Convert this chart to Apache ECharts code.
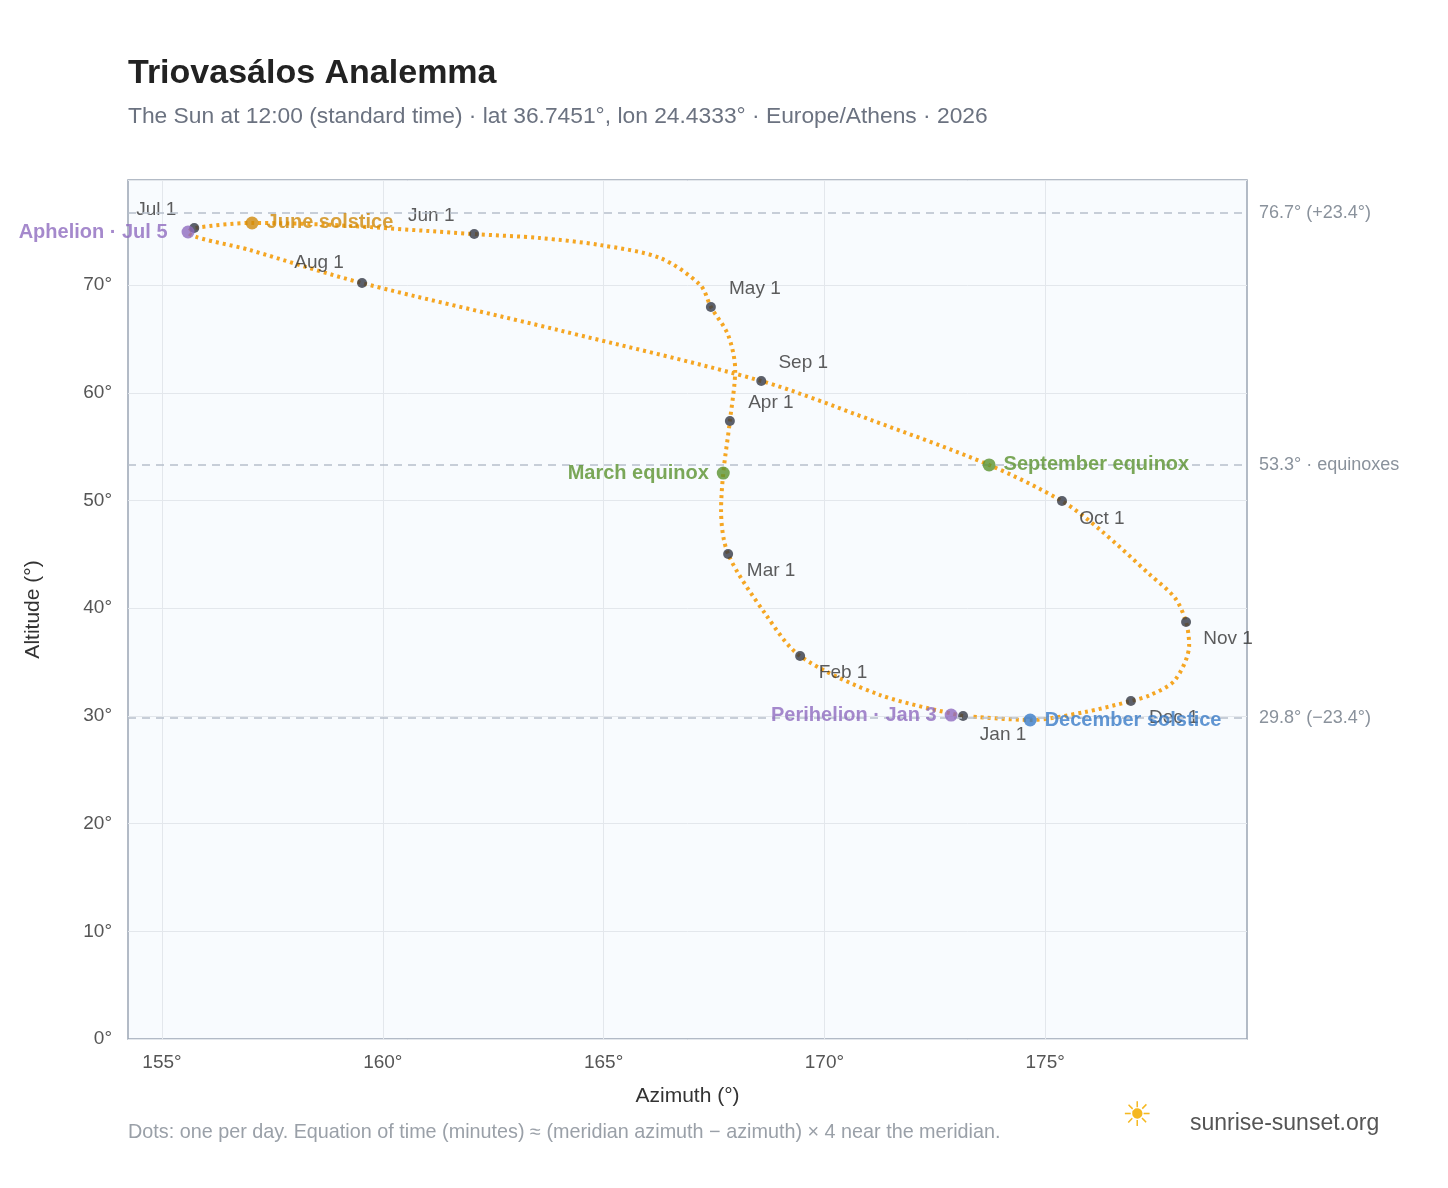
<!DOCTYPE html>
<html><head><meta charset="utf-8">
<script src="https://cdn.jsdelivr.net/npm/echarts@6/dist/echarts.min.js"></script>
<style>html,body{margin:0;background:#fff}#c{width:1448px;height:1188px}</style>
</head><body><div id="c"></div>
<script>
// Sun position at noon, sampled through the year (date, azimuth°, altitude°)
const pathDates = ['Jan 1','Jan 15','Feb 1','Feb 15','Mar 1','Mar 10','Mar 20','Apr 1','Apr 15','Apr 23','May 1','May 5','May 12','May 19','May 25','Jun 1','Jun 15','Jun 21','Jul 1','Jul 5','Jul 15','Aug 1','Aug 15','Sep 1','Sep 15','Sep 22','Oct 1','Oct 8','Oct 18','Oct 26','Nov 1','Nov 8','Nov 17','Nov 24','Dec 1','Dec 10','Dec 21','Dec 31'];
const pathAz  = [173.14,171.26,169.45,168.68,167.82,167.66,167.71,167.86,167.98,167.82,167.43,167.19,166.28,164.92,163.56,162.07,158.80,157.04,155.73,155.59,156.99,159.53,164.00,168.57,171.04,173.73,175.38,176.25,177.38,177.94,178.19,178.26,177.94,177.38,176.94,175.90,174.66,173.30];
const pathAlt = [29.99,31.94,35.56,39.37,45.03,49.12,52.55,57.38,62.12,65.37,67.97,70.01,72.52,73.72,74.37,74.74,75.60,75.77,75.30,74.93,73.26,70.19,65.80,61.10,57.50,53.30,49.95,47.26,43.08,40.95,38.72,36.58,33.33,31.94,31.38,30.36,29.62,29.95];

const monthNames = ['Jan 1','Feb 1','Mar 1','Apr 1','May 1','Jun 1','Jul 1','Aug 1','Sep 1','Oct 1','Nov 1','Dec 1'];
const monthAz  = [173.14,169.45,167.82,167.86,167.43,162.07,155.73,159.53,168.57,175.38,178.19,176.94];
const monthAlt = [29.99,35.56,45.03,57.38,67.97,74.74,75.30,70.19,61.10,49.95,38.72,31.38];

const eventNames = ['Aphelion · Jul 5','June solstice','March equinox','September equinox','Perihelion · Jan 3','December solstice'];
const eventAz  = [155.59,157.04,167.71,173.73,172.87,174.66];
const eventAlt = [74.93,75.77,52.55,53.30,30.08,29.62];

const refNames = ['76.7° (+23.4°)','53.3° · equinoxes','29.8° (−23.4°)'];
const refAlt = [76.7,53.3,29.8];

const xTicks = [155,160,165,170,175];
const yTicks = [0,10,20,30,40,50,60,70];

const monthLabelPos = {
 'Jan 1':[40,19],'Feb 1':[43,17],'Mar 1':[43,17],'Apr 1':[41,-18],'May 1':[44,-18],
 'Jun 1':[-43,-18],'Jul 1':[-38,-18],'Aug 1':[-43,-20],'Sep 1':[42,-18],'Oct 1':[40,18],
 'Nov 1':[42,17],'Dec 1':[43,17]};
const eventStyle = [
 {c:'#8e6bbf',p:'left'},{c:'#d08a0a',p:'right'},{c:'#5a922e',p:'left'},
 {c:'#5a922e',p:'right'},{c:'#8e6bbf',p:'left'},{c:'#3a7cc7',p:'right'}];

const chart = echarts.init(document.getElementById('c'));
const font = 'Liberation Sans, Arial, sans-serif';
chart.setOption({
  animation:false,
  textStyle:{fontFamily:font},
  title:{text:'Triovasálos Analemma',left:123,top:52,textStyle:{fontSize:34,fontWeight:'bold',color:'#222'},
    subtext:'The Sun at 12:00 (standard time) · lat 36.7451°, lon 24.4333° · Europe/Athens · 2026',
    subtextStyle:{fontSize:22.8,color:'#6b7280'},itemGap:14},
  grid:{left:128,right:201,top:180,bottom:149,show:true,backgroundColor:'#f8fbfe',borderColor:'#9aa5b4',borderWidth:1.5},
  xAxis:{type:'value',min:154.23,max:179.57,name:'Azimuth (°)',nameLocation:'middle',nameGap:47,
    nameTextStyle:{fontSize:21,color:'#333'},
    axisLabel:{fontSize:19,color:'#555',margin:14,customValues:xTicks,formatter:v=>v+'°'},
    axisLine:{show:false},axisTick:{show:false,customValues:xTicks},splitLine:{lineStyle:{color:'#e3e7ec'}}},
  yAxis:{type:'value',min:0,max:79.76,interval:10,name:'Altitude (°)',nameLocation:'middle',nameGap:84,
    nameTextStyle:{fontSize:21,color:'#333'},
    axisLabel:{fontSize:19,color:'#555',margin:16,formatter:v=>yTicks.includes(v)?v+'°':''},
    axisLine:{show:false},axisTick:{show:false},splitLine:{lineStyle:{color:'#e3e7ec'}}},
  graphic:[
    {type:'text',left:128,top:1123,style:{text:'Dots: one per day. Equation of time (minutes) ≈ (meridian azimuth − azimuth) × 4 near the meridian.',fontSize:19.8,fill:'#9aa0a8',fontFamily:font}},
    {type:'text',left:1190,top:1112,style:{text:'sunrise-sunset.org',fontSize:23,fill:'#555',fontFamily:font}},
    {type:'text',left:1122,top:1100,style:{text:'☀',fontSize:34,fill:'#f5b820',fontFamily:'DejaVu Sans'}}
  ],
  series:[
    {type:'line',smooth:0.3,symbol:'none',data:pathAz.map((a,i)=>[a,pathAlt[i]]),
     lineStyle:{color:'#f5a623',width:4,type:[3,4]},z:2,
     markLine:{silent:true,symbol:'none',
       lineStyle:{color:'#b7c0cb',type:[8,6],width:1.5},
       label:{position:'end',fontSize:18,color:'#8a929c',distance:12},
       data:refAlt.map((y,i)=>({yAxis:y,label:{formatter:refNames[i]}}))}},
    {type:'scatter',symbolSize:10,itemStyle:{color:'#343a46'},z:4,
     data:monthNames.map((n,i)=>({value:[monthAz[i],monthAlt[i]],
       label:{show:true,formatter:n,offset:monthLabelPos[n],fontSize:19,color:'#333',position:'inside'}}))},
    {type:'scatter',symbolSize:13,z:5,
     data:eventNames.map((n,i)=>({value:[eventAz[i],eventAlt[i]],itemStyle:{color:eventStyle[i].c},
       label:{show:true,formatter:n,position:eventStyle[i].p,distance:i===0?14:8,fontSize:20,fontWeight:'bold',color:eventStyle[i].c}}))}
  ]
});
</script></body></html>
